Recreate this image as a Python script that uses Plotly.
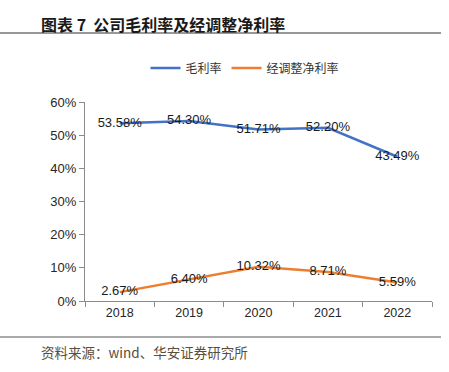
import plotly.graph_objects as go

years = ["2018", "2019", "2020", "2021", "2022"]
gross_margin = [0.5358, 0.5430, 0.5171, 0.5220, 0.4349]
adj_net_margin = [0.0267, 0.0640, 0.1032, 0.0871, 0.0559]
gross_labels = ["53.58%", "54.30%", "51.71%", "52.20%", "43.49%"]
net_labels = ["2.67%", "6.40%", "10.32%", "8.71%", "5.59%"]
y_ticks = [0, 0.1, 0.2, 0.3, 0.4, 0.5, 0.6]
y_tick_labels = ["0%", "10%", "20%", "30%", "40%", "50%", "60%"]

num_font = "Liberation Sans, Arial, sans-serif"
cjk_font = "Noto Sans CJK SC, sans-serif"

W, H = 449, 372
ML, MR, MT, MB = 85, 17, 102, 71
plot_h = H - MT - MB
plot_w = W - ML - MR


def py(pix_y):
    return (H - MB - pix_y) / plot_h


def px(pix_x):
    return (pix_x - ML) / plot_w


fig = go.Figure()
fig.add_trace(go.Scatter(
    x=years, y=gross_margin, name="毛利率", mode="lines+text",
    line=dict(color="#4472C4", width=2.5),
    text=gross_labels, textposition="middle center",
    textfont=dict(family=num_font, size=13, color="#1a1a1a"),
))
fig.add_trace(go.Scatter(
    x=years, y=adj_net_margin, name="经调整净利率", mode="lines+text",
    line=dict(color="#ED7D31", width=2.5),
    text=net_labels, textposition="middle center",
    textfont=dict(family=num_font, size=13, color="#1a1a1a"),
))

fig.update_layout(
    width=W, height=H,
    margin=dict(l=ML, r=MR, t=MT, b=MB, autoexpand=False),
    paper_bgcolor="white", plot_bgcolor="white",
    showlegend=True,
    legend=dict(orientation="h", x=px(245), xanchor="center",
                y=py(68), yanchor="middle",
                font=dict(family=cjk_font, size=12, color="#333333"),
                itemwidth=30, traceorder="normal"),
    xaxis=dict(type="category", range=[-0.5, 4.5], showline=True,
               linecolor="#8c8c8c", linewidth=1, ticks="outside", ticklen=5,
               tickcolor="#8c8c8c", tickson="boundaries", showgrid=False,
               tickfont=dict(family=num_font, size=12.5, color="#262626"),
               fixedrange=True),
    yaxis=dict(range=[0, 0.6], tickvals=y_ticks, ticktext=y_tick_labels,
               showline=True, linecolor="#8c8c8c", linewidth=1,
               ticks="outside", ticklen=5, tickcolor="#8c8c8c", showgrid=False,
               zeroline=False,
               tickfont=dict(family=num_font, size=13, color="#262626"),
               fixedrange=True),
)

fig.add_annotation(text="<b>图表 7  公司毛利率及经调整净利率</b>", xref="paper", yref="paper",
                   x=px(39), y=py(24), xanchor="left", yanchor="middle",
                   showarrow=False,
                   font=dict(family=cjk_font, size=16, color="#1a1a1a"))
fig.add_annotation(text="资料来源：wind、华安证券研究所", xref="paper", yref="paper",
                   x=px(39), y=py(352), xanchor="left", yanchor="middle", showarrow=False,
                   font=dict(family=cjk_font, size=13.5, color="#5a4e3c"))
fig.add_shape(type="line", xref="paper", yref="paper", x0=px(0), x1=px(441),
              y0=py(33), y1=py(33), line=dict(color="#333333", width=1))
fig.add_shape(type="line", xref="paper", yref="paper", x0=px(0), x1=px(441),
              y0=py(337), y1=py(337), line=dict(color="#555555", width=1))

fig.write_html("out.html",
               config={"displayModeBar": False},
               post_script="document.body.style.margin='0';document.body.style.overflow='hidden';")
